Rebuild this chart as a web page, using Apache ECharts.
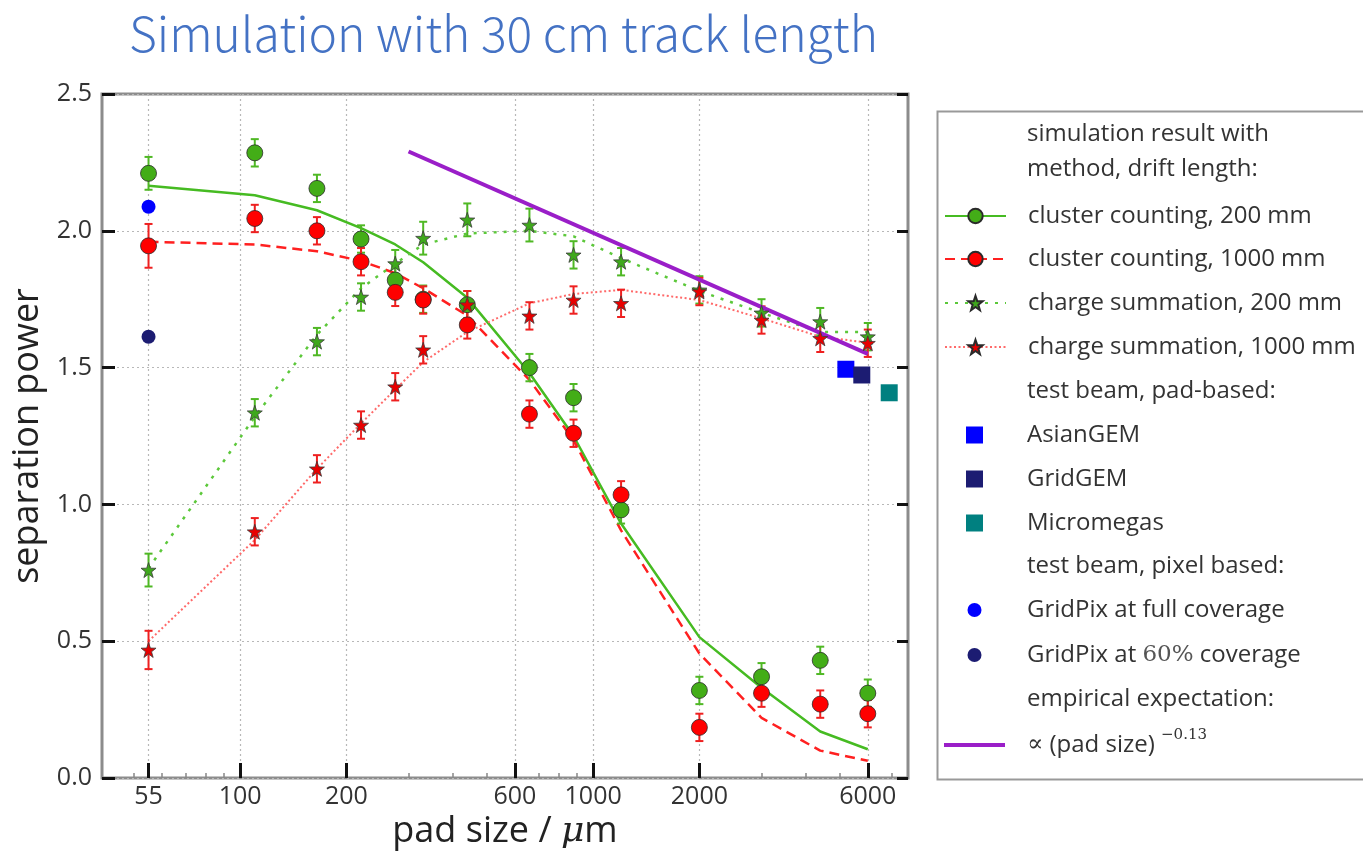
<!DOCTYPE html>
<html>
<head>
<meta charset="utf-8">
<title>Separation power vs pad size</title>
<script src="https://cdn.jsdelivr.net/npm/echarts@6/dist/echarts.min.js"></script>
<style>
  html, body { margin: 0; padding: 0; background: #ffffff; }
  #chart { width: 1363px; height: 853px; }
</style>
</head>
<body>
<div id="chart"></div>
<script>
// Pad sizes (µm) at which the simulation was evaluated
const padSizes = [55, 110, 165, 220, 275, 330, 440, 660, 880, 1200, 2000, 3000, 4400, 6000];

// Simulated separation power, points with uncertainties
const clusterNearPts = [2.21, 2.285, 2.155, 1.97, 1.82, 1.75, 1.73, 1.50, 1.39, 0.98, 0.32, 0.37, 0.43, 0.31];
const clusterNearErr = [0.06, 0.05, 0.05, 0.05, 0.05, 0.05, 0.05, 0.05, 0.05, 0.05, 0.05, 0.05, 0.05, 0.05];
const clusterFarPts  = [1.945, 2.045, 2.0, 1.887, 1.775, 1.747, 1.656, 1.33, 1.26, 1.035, 0.185, 0.31, 0.27, 0.235];
const clusterFarErr  = [0.08, 0.05, 0.05, 0.05, 0.05, 0.05, 0.05, 0.05, 0.05, 0.05, 0.05, 0.05, 0.05, 0.05];
const chargeNearPts  = [0.76, 1.335, 1.595, 1.758, 1.88, 1.973, 2.04, 2.021, 1.912, 1.887, 1.784, 1.70, 1.668, 1.613];
const chargeNearErr  = [0.06, 0.05, 0.05, 0.05, 0.05, 0.06, 0.06, 0.06, 0.05, 0.05, 0.05, 0.05, 0.05, 0.05];
const chargeFarPts   = [0.468, 0.90, 1.13, 1.29, 1.43, 1.565, 1.73, 1.689, 1.747, 1.735, 1.778, 1.674, 1.607, 1.589];
const chargeFarErr   = [0.07, 0.05, 0.05, 0.05, 0.05, 0.05, 0.05, 0.05, 0.05, 0.05, 0.05, 0.05, 0.05, 0.05];

// Smooth model curves through the simulation
const clusterNearFit = [2.165, 2.13, 2.075, 2.01, 1.95, 1.885, 1.755, 1.48, 1.25, 0.93, 0.515, 0.33, 0.17, 0.105];
const clusterFarFit  = [1.96, 1.95, 1.925, 1.89, 1.845, 1.79, 1.69, 1.455, 1.235, 0.905, 0.455, 0.22, 0.10, 0.063];
const chargeNearFit  = [0.766, 1.32, 1.62, 1.79, 1.88, 1.95, 1.99, 2.0, 1.98, 1.90, 1.78, 1.70, 1.63, 1.63];
const chargeFarFit   = [0.50, 0.87, 1.13, 1.296, 1.42, 1.52, 1.63, 1.735, 1.769, 1.784, 1.747, 1.68, 1.613, 1.591];

// Empirical power-law expectation (end points)
const expectation = [[300, 2.29], [6000, 1.55]];

// Test beam results
const asianGem   = [[5200, 1.494]];
const gridGem    = [[5770, 1.473]];
const micromegas = [[6900, 1.408]];
const gridPixFull = [[55, 2.088]];
const gridPix60   = [[55, 1.613]];

// Axis ticks
const xMajorTicks = [55, 100, 200, 600, 1000, 2000, 6000];
const xMinorTicks = [50, 60, 70, 80, 90, 300, 400, 500, 700, 800, 900, 3000, 4000, 5000, 7000];

const SANS = '"Open Sans", "Noto Sans", "Liberation Sans", sans-serif';
const SERIF = '"DejaVu Serif", "Liberation Serif", serif';
const STAR = 'path://M0,-10L2.35,-3.24L9.51,-3.09L3.8,1.24L5.88,8.09L0,4L-5.88,8.09L-3.8,1.24L-9.51,-3.09L-2.35,-3.24Z';
const BAR_ICON = 'path://M0,0H61V4H0Z';

const GREEN = '#43ad17';
const GREEN_LINE = '#46bb22';
const RED = '#ff0000';
const PURPLE = '#9a1ec8';
const LEG_FONT = 24;
const TEXT_X = 1027;

const NAMES = {
  ccNear: 'cluster counting, 200 mm',
  ccFar: 'cluster counting, 1000 mm',
  csNear: 'charge summation, 200 mm',
  csFar: 'charge summation, 1000 mm',
  expect: 'expectation'
};

function pairs(xs, ys) { return xs.map((x, i) => [x, ys[i]]); }

function fitLine(name, ys, color, width, dash, symbol, symbolColor) {
  return {
    type: 'line', name: name, data: pairs(padSizes, ys),
    symbol: symbol, showSymbol: false, smooth: false, silent: true,
    lineStyle: { color: color, width: width, type: dash },
    itemStyle: { color: symbolColor, borderColor: '#2a2a2a', borderWidth: 0.8 },
    z: 2
  };
}

function errorBars(ys, errs, color) {
  return {
    type: 'custom', name: 'err', silent: true,
    data: padSizes.map((x, i) => [x, ys[i] - errs[i], ys[i] + errs[i]]),
    encode: { x: 0, y: [1, 2] },
    renderItem: function (params, api) {
      const x = api.value(0);
      const lo = api.coord([x, api.value(1)]);
      const hi = api.coord([x, api.value(2)]);
      const w = 4;
      const style = { stroke: color, lineWidth: 2 };
      return {
        type: 'group',
        children: [
          { type: 'line', shape: { x1: lo[0], y1: lo[1], x2: hi[0], y2: hi[1] }, style: style },
          { type: 'line', shape: { x1: lo[0] - w, y1: lo[1], x2: lo[0] + w, y2: lo[1] }, style: style },
          { type: 'line', shape: { x1: hi[0] - w, y1: hi[1], x2: hi[0] + w, y2: hi[1] }, style: style }
        ]
      };
    },
    z: 3
  };
}

function points(name, ys, symbol, size, color, edge) {
  return {
    type: 'scatter', name: name, data: pairs(padSizes, ys),
    symbol: symbol, symbolSize: size, silent: true,
    itemStyle: { color: color, borderColor: edge, borderWidth: 0.8, opacity: 1 },
    z: 4
  };
}

function single(name, data, symbol, size, color) {
  return {
    type: 'scatter', name: name, data: data, symbol: symbol, symbolSize: size, silent: true,
    itemStyle: { color: color, opacity: 1 }, z: 4
  };
}

// One legend component per row, so each row sits at its own height.
// The icon is centred on x = 974.5 and the text starts at TEXT_X.
function legendRow(name, centerY, opts) {
  const o = opts || {};
  const h = o.boxHeight || 24;
  const iw = o.itemWidth || 61;
  const left = 974.5 - iw / 2;
  const pad = TEXT_X - (left + iw + 5);
  const rich = o.rich || {};
  return {
    data: [o.icon ? { name: name, icon: o.icon } : name],
    left: left, top: centerY - h / 2, orient: 'vertical', padding: 0,
    itemWidth: iw, itemHeight: o.itemHeight || 18, itemGap: 0,
    selectedMode: false,
    formatter: o.formatter || '{name}',
    textStyle: { fontFamily: SANS, fontSize: LEG_FONT, color: '#333', padding: [0, 0, 0, pad], lineHeight: 24, rich: rich }
  };
}

function header(text, centerY) {
  return { type: 'text', left: TEXT_X, top: centerY - 13, silent: true,
    style: { text: text, font: LEG_FONT + 'px ' + SANS, fill: '#333' } };
}

const chart = echarts.init(document.getElementById('chart'), null, { renderer: 'canvas' });

const option = {
  backgroundColor: '#ffffff',
  animation: false,
  title: {
    text: 'Simulation with 30 cm track length',
    left: 124, top: 5,
    textStyle: { fontFamily: '"Noto Sans CJK SC", "Noto Sans", sans-serif', fontWeight: 300, fontSize: 48, color: '#4472c4' }
  },
  grid: {
    left: 102, right: 455, top: 94, bottom: 75,
    show: true, borderColor: '#8c8c8c', borderWidth: 3, backgroundColor: 'transparent',
    containLabel: false, outerBoundsMode: 'none'
  },
  xAxis: [
    {
      type: 'log', logBase: 10, min: 40.6, max: 7800, gridIndex: 0, position: 'bottom',
      name: 'pad size / {i|μ}m', nameLocation: 'middle', nameGap: 36,
      nameTextStyle: { fontFamily: SANS, fontSize: 36, color: '#222',
        rich: { i: { fontFamily: SERIF, fontStyle: 'italic', fontSize: 36, color: '#222' } } },
      axisLine: { show: false },
      axisTick: { show: true, inside: true, length: 15, customValues: xMajorTicks,
        lineStyle: { color: '#111', width: 3 } },
      axisLabel: { show: true, customValues: xMajorTicks, margin: 6,
        fontFamily: SANS, fontSize: 25, color: '#333', formatter: v => String(Math.round(v)) },
      splitLine: { show: true, lineStyle: { color: '#b8b8b8', width: 1.2, type: [2, 3] } },
      minorTick: { show: false }, minorSplitLine: { show: false }
    },
    {
      // minor decade ticks along the bottom edge
      type: 'log', logBase: 10, min: 40.6, max: 7800, gridIndex: 0, position: 'bottom',
      axisLine: { show: false },
      axisTick: { show: true, inside: true, length: 5, customValues: xMinorTicks,
        lineStyle: { color: '#888', width: 1.5 } },
      axisLabel: { show: false },
      splitLine: { show: false }
    }
  ],
  yAxis: [
    {
      type: 'value', min: 0, max: 2.5, interval: 0.5, position: 'left',
      name: 'separation power', nameLocation: 'middle', nameGap: 38, nameRotate: 90,
      nameTextStyle: { fontFamily: SANS, fontSize: 36, color: '#222' },
      axisLine: { show: false },
      axisTick: { show: true, inside: true, length: 13, lineStyle: { color: '#111', width: 3 } },
      axisLabel: { margin: 10, fontFamily: SANS, fontSize: 25, color: '#333', formatter: v => v.toFixed(1) },
      splitLine: { show: true, lineStyle: { color: '#b8b8b8', width: 1.2, type: [2, 3] } }
    },
    {
      type: 'value', min: 0, max: 2.5, interval: 0.5, position: 'right',
      axisLine: { show: false },
      axisTick: { show: true, inside: true, length: 11, lineStyle: { color: '#111', width: 3 } },
      axisLabel: { show: false },
      splitLine: { show: false }
    }
  ],
  legend: [
    legendRow(NAMES.ccNear, 216),
    legendRow(NAMES.ccFar, 259),
    legendRow(NAMES.csNear, 303),
    legendRow(NAMES.csFar, 347),
    legendRow('AsianGEM', 435, { icon: 'rect', itemWidth: 17, itemHeight: 17 }),
    legendRow('GridGEM', 479, { icon: 'rect', itemWidth: 17, itemHeight: 17 }),
    legendRow('Micromegas', 523, { icon: 'rect', itemWidth: 17, itemHeight: 17 }),
    legendRow('GridPix at full coverage', 610, { icon: 'circle', itemWidth: 14, itemHeight: 14 }),
    legendRow('GridPix at 60% coverage', 655, { icon: 'circle', itemWidth: 14, itemHeight: 14,
      formatter: () => '{t|GridPix at }{r|60%}{t| coverage}',
      rich: { t: { fontFamily: SANS, fontSize: LEG_FONT, color: '#333' },
              r: { fontFamily: SERIF, fontSize: 23, color: '#555' } } }),
    legendRow(NAMES.expect, 745, { boxHeight: 35, icon: BAR_ICON,
      formatter: () => '{m|∝} {t|(pad size)} {s|−0.13}',
      rich: { m: { fontFamily: SERIF, fontSize: LEG_FONT, color: '#333' },
              t: { fontFamily: SANS, fontSize: LEG_FONT, color: '#333' },
              s: { fontFamily: SERIF, fontSize: 15, color: '#333', lineHeight: 15, padding: [0, 0, 20, 0] } } })
  ],
  graphic: [
    { type: 'rect', left: 935, top: 109, silent: true,
      shape: { width: 440, height: 668 }, style: { fill: 'none', stroke: '#999', lineWidth: 2 } },
    header('simulation result with', 135),
    header('method, drift length:', 170),
    header('test beam, pad-based:', 392),
    header('test beam, pixel based:', 567),
    header('empirical expectation:', 700)
  ],
  series: [
    fitLine(NAMES.ccNear, clusterNearFit, GREEN_LINE, 2.5, 'solid', 'circle', GREEN),
    fitLine(NAMES.ccFar, clusterFarFit, '#ff2020', 2.5, [10, 6], 'circle', RED),
    fitLine(NAMES.csNear, chargeNearFit, '#5cc83a', 2.5, [3, 7], STAR, '#3fa81c'),
    fitLine(NAMES.csFar, chargeFarFit, '#ff6a6a', 2, [2, 2.5], STAR, '#e80000'),
    {
      type: 'line', name: NAMES.expect, data: expectation, symbol: 'none', showSymbol: false, silent: true,
      lineStyle: { color: PURPLE, width: 4 }, itemStyle: { color: PURPLE }, z: 3
    },
    errorBars(clusterNearPts, clusterNearErr, '#4fb824'),
    points(NAMES.ccNear, clusterNearPts, 'circle', 16, GREEN, '#2a2a2a'),
    errorBars(clusterFarPts, clusterFarErr, '#ee2020'),
    points(NAMES.ccFar, clusterFarPts, 'circle', 16, RED, '#2a2a2a'),
    errorBars(chargeNearPts, chargeNearErr, '#4fb824'),
    points(NAMES.csNear, chargeNearPts, STAR, 15, '#3fa81c', '#3b3b3b'),
    errorBars(chargeFarPts, chargeFarErr, '#ee2020'),
    points(NAMES.csFar, chargeFarPts, STAR, 15, '#e80000', '#3b3b3b'),
    single('AsianGEM', asianGem, 'rect', 17, '#0000ff'),
    single('GridGEM', gridGem, 'rect', 17, '#1c1c72'),
    single('Micromegas', micromegas, 'rect', 17, '#008080'),
    single('GridPix at full coverage', gridPixFull, 'circle', 14, '#0000ff'),
    single('GridPix at 60% coverage', gridPix60, 'circle', 14, '#1c1c72')
  ]
};

chart.setOption(option);
</script>
</body>
</html>
